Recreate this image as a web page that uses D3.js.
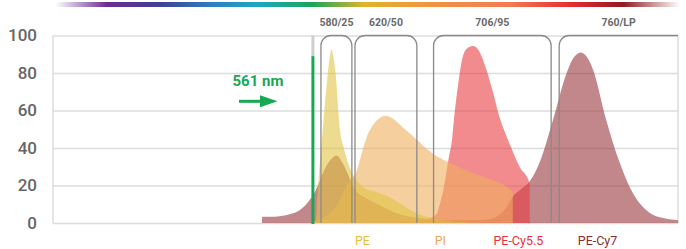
<!DOCTYPE html>
<html>
<head>
<meta charset="utf-8">
<script src="https://cdn.jsdelivr.net/npm/d3@7"></script>
<style>
  html, body { margin: 0; padding: 0; background: #fff; }
  svg { display: block; }
</style>
</head>
<body>
<svg id="chart" width="686" height="249"></svg>
<script>
// emission spectra, [wavelength nm, relative intensity %]
const peCy7 = [[519.8,0],[520,3.4],[530,3.4],[538,4],[545,5.2],[550.5,7],[555,9.5],[558.6,12.5],[561,14.5],[565,20],[570,28],[575,33.5],[580,36],[585,32],[590,25],[595,18],[605,13],[615,9.5],[630,5],[647,2.7],[670,1.5],[695,1.5],[704,2],[712,4.5],[718,9],[722.5,14],[729,18],[736,22],[744,32],[755,55],[766,80],[772,88.5],[777.5,91],[783,88],[787.5,81.5],[798,55],[809,32],[819.5,16],[833,5.5],[845,2.5],[856,1.5]];
const peCy55 = [[600,0],[630,0.5],[650,1.5],[657,3],[661,5],[663.6,10],[667.6,22],[670.8,35],[673.3,44],[674.9,55],[678.1,72.7],[682.2,89],[686.2,93.5],[690.5,94.4],[694,93],[701.3,81.6],[706.4,70],[712,56],[717,47],[722,39],[728,30],[736.2,21],[736.3,0]];
const pi = [[561,0],[566.7,2],[578.8,8],[589.3,21],[596.5,28],[600,36],[604.6,46],[611,53.5],[615,56],[620,57.2],[625,56],[632,52],[639.4,47.8],[658,37],[671.7,32],[690.2,26.7],[722.5,16.7],[722.6,0]];
const pe = [[561,0],[563.4,2],[565,18],[569,50],[572.3,75],[574.5,88],[576,92.5],[577.5,89],[579.3,80],[582.8,50],[586,40],[590,31],[595,24],[602,19],[612,16.5],[622,14],[631,10.5],[642,6],[658,2.5],[680,0.5],[700,0]];

const seriesNames = ["PE-Cy7", "PE-Cy5.5", "PI", "PE"];
const seriesData = [peCy7, peCy55, pi, pe];
const seriesFill = ["#99373e", "#e93e43", "#f0af5d", "#e1c344"];

// legend: label, text colour, wavelength under which it sits
const legendNames = ["PE", "PI", "PE-Cy5.5", "PE-Cy7"];
const legendColors = ["#e6c03c", "#f2a651", "#e8303c", "#8b2a35"];
const legendAt = [601, 664, 727, 791];

// band-pass filters: centre / width; LP has no upper edge
const filterNames = ["580/25", "620/50", "706/95", "760/LP"];
const filterLo = [567.5, 595, 658.5, 760];
const filterHi = [592.5, 645, 753.5, null];

const laserNm = 561;
const laserLevel = 89;
const yTicks = [0, 20, 40, 60, 80, 100];

const svg = d3.select("#chart");
const plotL = 53, plotR = 678, plotT = 35.5, plotB = 223;

const x = d3.scaleLinear().domain([351, 856]).range([plotL, plotR]);
const y = d3.scaleLinear().domain([0, 100]).range([plotB, plotT]);

// rainbow strip
const defs = svg.append("defs");
const grad = defs.append("linearGradient").attr("id", "rainbow")
    .attr("x1", "0%").attr("x2", "100%").attr("y1", "0%").attr("y2", "0%");
const stops = [[55,"#ffffff"],[107,"#6b2c91"],[160,"#3f3f95"],[210,"#2f7dc0"],[257,"#1ea7bf"],[313,"#1aa65a"],[364,"#dfb52c"],[427,"#f09540"],[510,"#f47a55"],[573,"#e52a30"],[623,"#8e1a22"],[680,"#ffffff"]];
stops.forEach(([px, c]) => {
    grad.append("stop").attr("offset", ((px - 55) / (680 - 55) * 100) + "%").attr("stop-color", c);
});
svg.append("rect").attr("x", 55).attr("y", 2).attr("width", 625).attr("height", 5)
    .attr("fill", "url(#rainbow)");

// grid + y labels
const yAxis = svg.append("g")
    .attr("transform", `translate(${plotL},0)`)
    .call(d3.axisLeft(y).tickValues(yTicks).tickSize(-(plotR - plotL)).tickPadding(16));
yAxis.select(".domain").remove();
yAxis.selectAll("line").attr("stroke", "#dcdcdc").attr("stroke-width", 1.5);
yAxis.selectAll("text")
    .attr("fill", "#666")
    .style("font-family", "Roboto, sans-serif")
    .style("font-size", "17px")
    .style("font-weight", "500");

svg.append("line").attr("x1", plotL).attr("x2", plotL).attr("y1", plotT).attr("y2", plotB)
    .attr("stroke", "#dcdcdc").attr("stroke-width", 1.5);
svg.append("line").attr("x1", plotR).attr("x2", plotR).attr("y1", plotT).attr("y2", plotB)
    .attr("stroke", "#dcdcdc").attr("stroke-width", 1.5);

// spectra
const area = d3.area()
    .x(d => x(d[0]))
    .y0(y(0))
    .y1(d => y(d[1]))
    .curve(d3.curveMonotoneX);

svg.append("g").selectAll("path")
    .data(seriesData)
    .join("path")
    .attr("d", area)
    .attr("fill", (d, i) => seriesFill[i])
    .attr("fill-opacity", 0.6);

// filter boxes
const r = 10;
const boxes = svg.append("g");
filterNames.forEach((name, i) => {
    const x1 = x(filterLo[i]);
    const x2 = filterHi[i] === null ? plotR : x(filterHi[i]);
    let d = `M${x1},${plotB} V${plotT + r} A${r},${r} 0 0 1 ${x1 + r},${plotT}`;
    if (filterHi[i] === null) {
        d += ` H${x2}`;
    } else {
        d += ` H${x2 - r} A${r},${r} 0 0 1 ${x2},${plotT + r} V${plotB}`;
    }
    boxes.append("path").attr("d", d)
        .attr("fill", "none").attr("stroke", "#8a8a8a").attr("stroke-width", 1.3);
    boxes.append("text")
        .attr("x", (x1 + x2) / 2).attr("y", 25.5)
        .attr("text-anchor", "middle")
        .attr("fill", "#6a6a6a")
        .style("font-family", "Roboto, sans-serif")
        .style("font-size", "10.5px")
        .style("font-weight", "700")
        .text(name);
});

// laser line
const lx = x(laserNm);
svg.append("line").attr("x1", lx).attr("x2", lx).attr("y1", plotT).attr("y2", y(laserLevel))
    .attr("stroke", "#cfcfcf").attr("stroke-width", 3);
svg.append("line").attr("x1", lx).attr("x2", lx).attr("y1", y(laserLevel)).attr("y2", plotB + 1)
    .attr("stroke", "#17a852").attr("stroke-width", 3);

svg.append("text")
    .attr("x", 258).attr("y", 86)
    .attr("text-anchor", "middle")
    .attr("fill", "#17a852")
    .style("font-family", "Roboto, sans-serif")
    .style("font-size", "15px")
    .style("font-weight", "700")
    .text(laserNm + " nm");
svg.append("line").attr("x1", 239).attr("x2", 262).attr("y1", 101.3).attr("y2", 101.3)
    .attr("stroke", "#17a852").attr("stroke-width", 3);
svg.append("path").attr("d", "M260,95.3 L277.5,101.3 L260,107.3 Z").attr("fill", "#17a852");

// legend
svg.append("g").selectAll("text")
    .data(legendNames)
    .join("text")
    .attr("x", (d, i) => x(legendAt[i]))
    .attr("y", 245)
    .attr("text-anchor", "middle")
    .attr("fill", (d, i) => legendColors[i])
    .style("font-family", "'Liberation Sans Narrow', Roboto, sans-serif")
    .style("font-size", "12.5px")
    .text(d => d);
</script>
</body>
</html>
